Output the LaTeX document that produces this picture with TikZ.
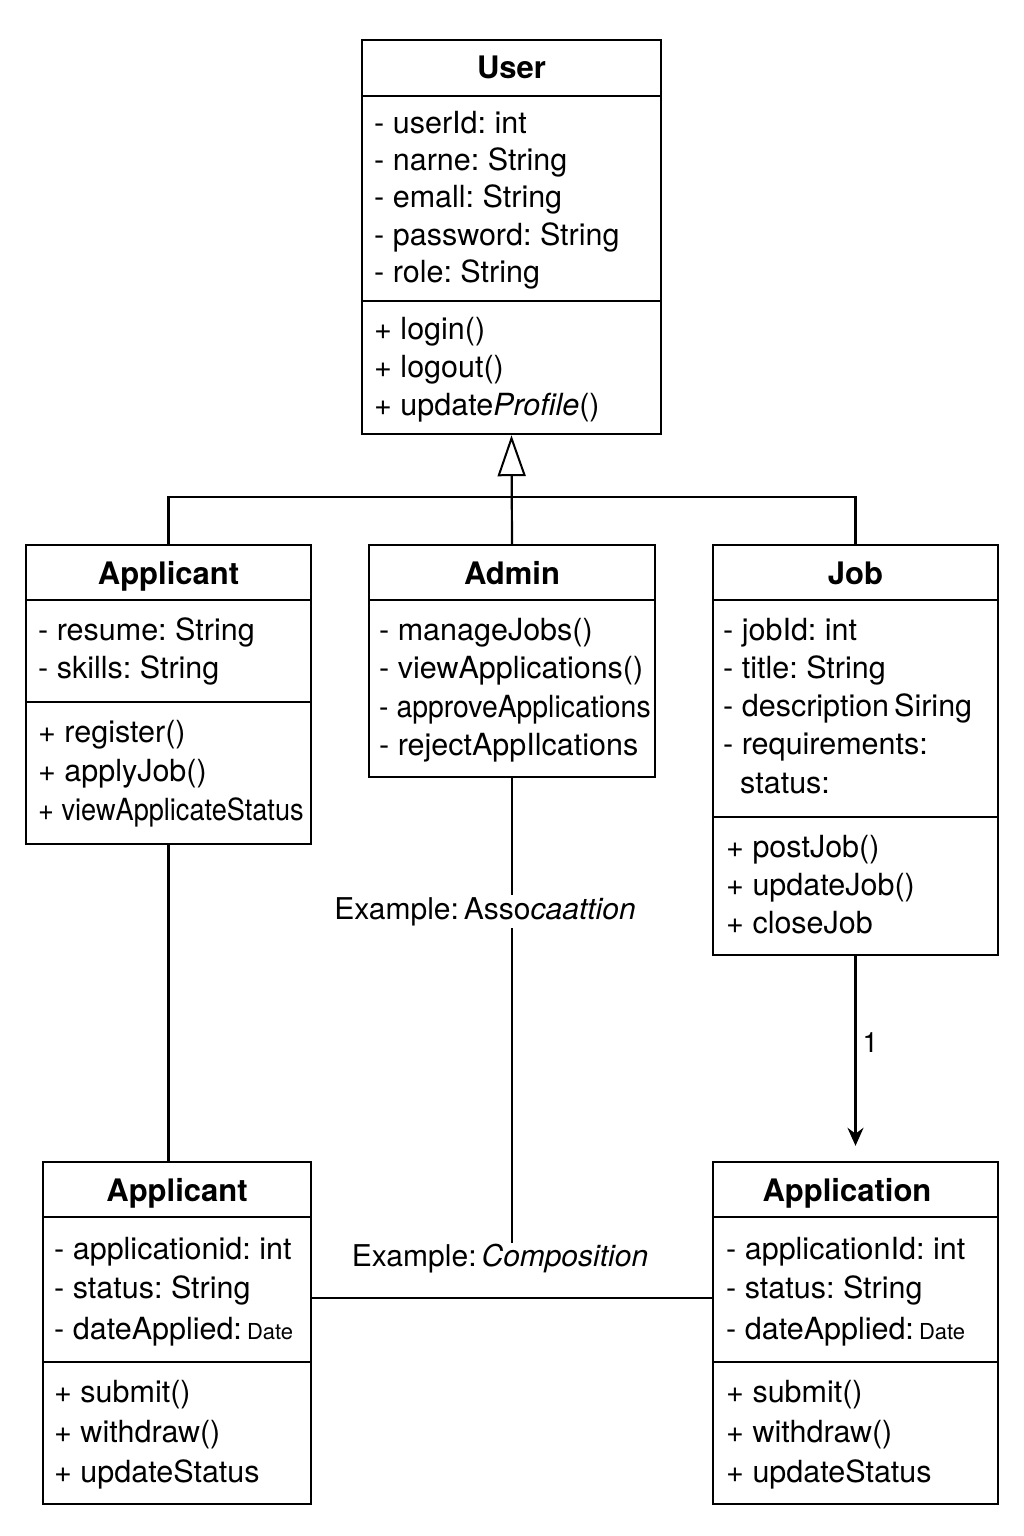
\documentclass[tikz,border=0pt]{standalone}
\usepackage{fontspec}
\setmainfont{TeX Gyre Heros}
\usepackage{graphicx}
\usetikzlibrary{arrows.meta}
\frenchspacing
\begin{document}
\begin{tikzpicture}[x=1pt,y=-1pt,
  box/.style={draw, line width=2.4pt, inner sep=0pt},
  dv/.style={line width=2.4pt},
  t/.style={anchor=base west, inner sep=0pt, font=\fontsize{30.5}{36}\selectfont},
  ttl/.style={anchor=base, inner sep=0pt, font=\fontsize{31}{37}\selectfont\bfseries},
  conn/.style={line width=2.2pt},
  lbl/.style={inner sep=2pt, fill=white, font=\fontsize{30}{36}\selectfont}]
\fill[white] (0,0) rectangle (1024,1536);
\useasboundingbox (0,0) rectangle (1024,1536);

% ---------- User ----------
\node[box, minimum width=299pt, minimum height=394pt] (user) at (511.5,237) {};
\draw[dv] (user.west |- 0,96) -- (user.east |- 0,96);
\draw[dv] (user.west |- 0,301) -- (user.east |- 0,301);
\node[ttl] (ut) at (511.5,79) {User};
\node[t] (u1) at (374,133) {- userId: int};
\node[t] (u2) at (374,170) {- narne: String};
\node[t] (u3) at (374,207) {- emall: String};
\node[t] (u4) at (374,245) {- password: String};
\node[t] (u5) at (374,282) {- role: String};
\node[t] (u6) at (374,339) {+ login()};
\node[t] (u7) at (374,377) {+ logout()};
\node[t] (u8) at (374,415) {+ update\textit{Profile}()};

% ---------- Applicant (top) ----------
\node[box, minimum width=285pt, minimum height=299pt] (appA) at (168.5,694.5) {};
\draw[dv] (appA.west |- 0,600) -- (appA.east |- 0,600);
\draw[dv] (appA.west |- 0,702) -- (appA.east |- 0,702);
\node[ttl] (at) at (168.5,584) {Applicant};
\node[t] (a1) at (38,640) {- resume: String};
\node[t] (a2) at (38,678) {- skills: String};
\node[t] (a3) at (38,742) {+ register()};
\node[t] (a4) at (38,781) {+ applyJob()};
\node[t] (a5) at (38,820) {\scalebox{0.89}[1]{+ viewApplicateStatus}};

% ---------- Admin ----------
\node[box, minimum width=286pt, minimum height=232pt] (admin) at (512,661) {};
\draw[dv] (admin.west |- 0,600) -- (admin.east |- 0,600);
\node[ttl] (adt) at (512,584) {Admin};
\node[t] (d1) at (379,640) {- manageJobs()};
\node[t] (d2) at (379,678) {- viewApplications()};
\node[t] (d3) at (379,717) {\scalebox{0.93}[1]{- approveApplications}};
\node[t] (d4) at (379,755) {- rejectAppIlcations};

% ---------- Job ----------
\node[box, minimum width=285pt, minimum height=410pt] (job) at (855.5,750) {};
\draw[dv] (job.west |- 0,600) -- (job.east |- 0,600);
\draw[dv] (job.west |- 0,817) -- (job.east |- 0,817);
\node[ttl] (jt) at (855.5,584) {Job};
\node[t] (j1) at (723,640) {- jobId: int};
\node[t] (j2) at (723,678) {- title: String};
\node[t] (j3) at (723,716) {- description\,Siring};
\node[t] (j4) at (723,754) {- requirements:};
\node[t] (j5) at (740,793) {status:};
\node[t] (j6) at (726,857) {+ postJob()};
\node[t] (j7) at (726,895) {+ updateJob()};
\node[t] (j8) at (726,933) {+ closeJob};

% ---------- Applicant (bottom) ----------
\node[box, minimum width=268pt, minimum height=342pt] (appB) at (177,1333) {};
\draw[dv] (appB.west |- 0,1217) -- (appB.east |- 0,1217);
\draw[dv] (appB.west |- 0,1362) -- (appB.east |- 0,1362);
\node[ttl] (bt) at (177,1201) {Applicant};
\node[t] (b1) at (54,1259) {- applicationid: int};
\node[t] (b2) at (54,1298) {- status: String};
\node[t] (b3) at (54,1339) {- dateApplied:\,{\fontsize{22}{26}\selectfont Date}};
\node[t] (b4) at (54,1402) {+ submit()};
\node[t] (b5) at (54,1442) {+ withdraw()};
\node[t] (b6) at (54,1482) {+ updateStatus};

% ---------- Application ----------
\node[box, minimum width=285pt, minimum height=342pt] (appl) at (855.5,1333) {};
\draw[dv] (appl.west |- 0,1217) -- (appl.east |- 0,1217);
\draw[dv] (appl.west |- 0,1362) -- (appl.east |- 0,1362);
\node[ttl] (pt) at (847,1201) {Application};
\node[t] (p1) at (726,1259) {- applicationId: int};
\node[t] (p2) at (726,1298) {- status: String};
\node[t] (p3) at (726,1339) {- dateApplied:\,{\fontsize{22}{26}\selectfont Date}};
\node[t] (p4) at (726,1402) {+ submit()};
\node[t] (p5) at (726,1442) {+ withdraw()};
\node[t] (p6) at (726,1482) {+ updateStatus};

% ---------- Connectors ----------
\coordinate (jn) at (512,497);
\draw[conn] (appA.north) |- (jn) -| (job.north);
\draw[conn, -{Triangle[open, width=28pt, length=41pt, line width=2pt]}] (admin.north) -- (user.south);

\draw[conn] (appA.south) -- (appA.south |- appB.north);

\node[inner sep=0pt, font=\fontsize{30}{36}\selectfont, anchor=base] (comp) at (500,1266) {Example:\,\textit{Composition}};
\draw[conn] (admin.south) -- (admin.south |- comp.north);
\node[lbl, anchor=base] (assoc) at (485,919) {Example:\,Asso\textit{caattion}};

\draw[conn, -{Stealth[length=18pt, width=16pt]}, shorten >=15pt] (job.south) -- (job.south |- appl.north)
  node[pos=0.42, right=6pt, inner sep=0pt, font=\fontsize{28}{32}\selectfont] (one) {1};

\draw[conn] (appB.east |- 0,1298) -- (appl.west |- 0,1298);
\end{tikzpicture}
\end{document}
